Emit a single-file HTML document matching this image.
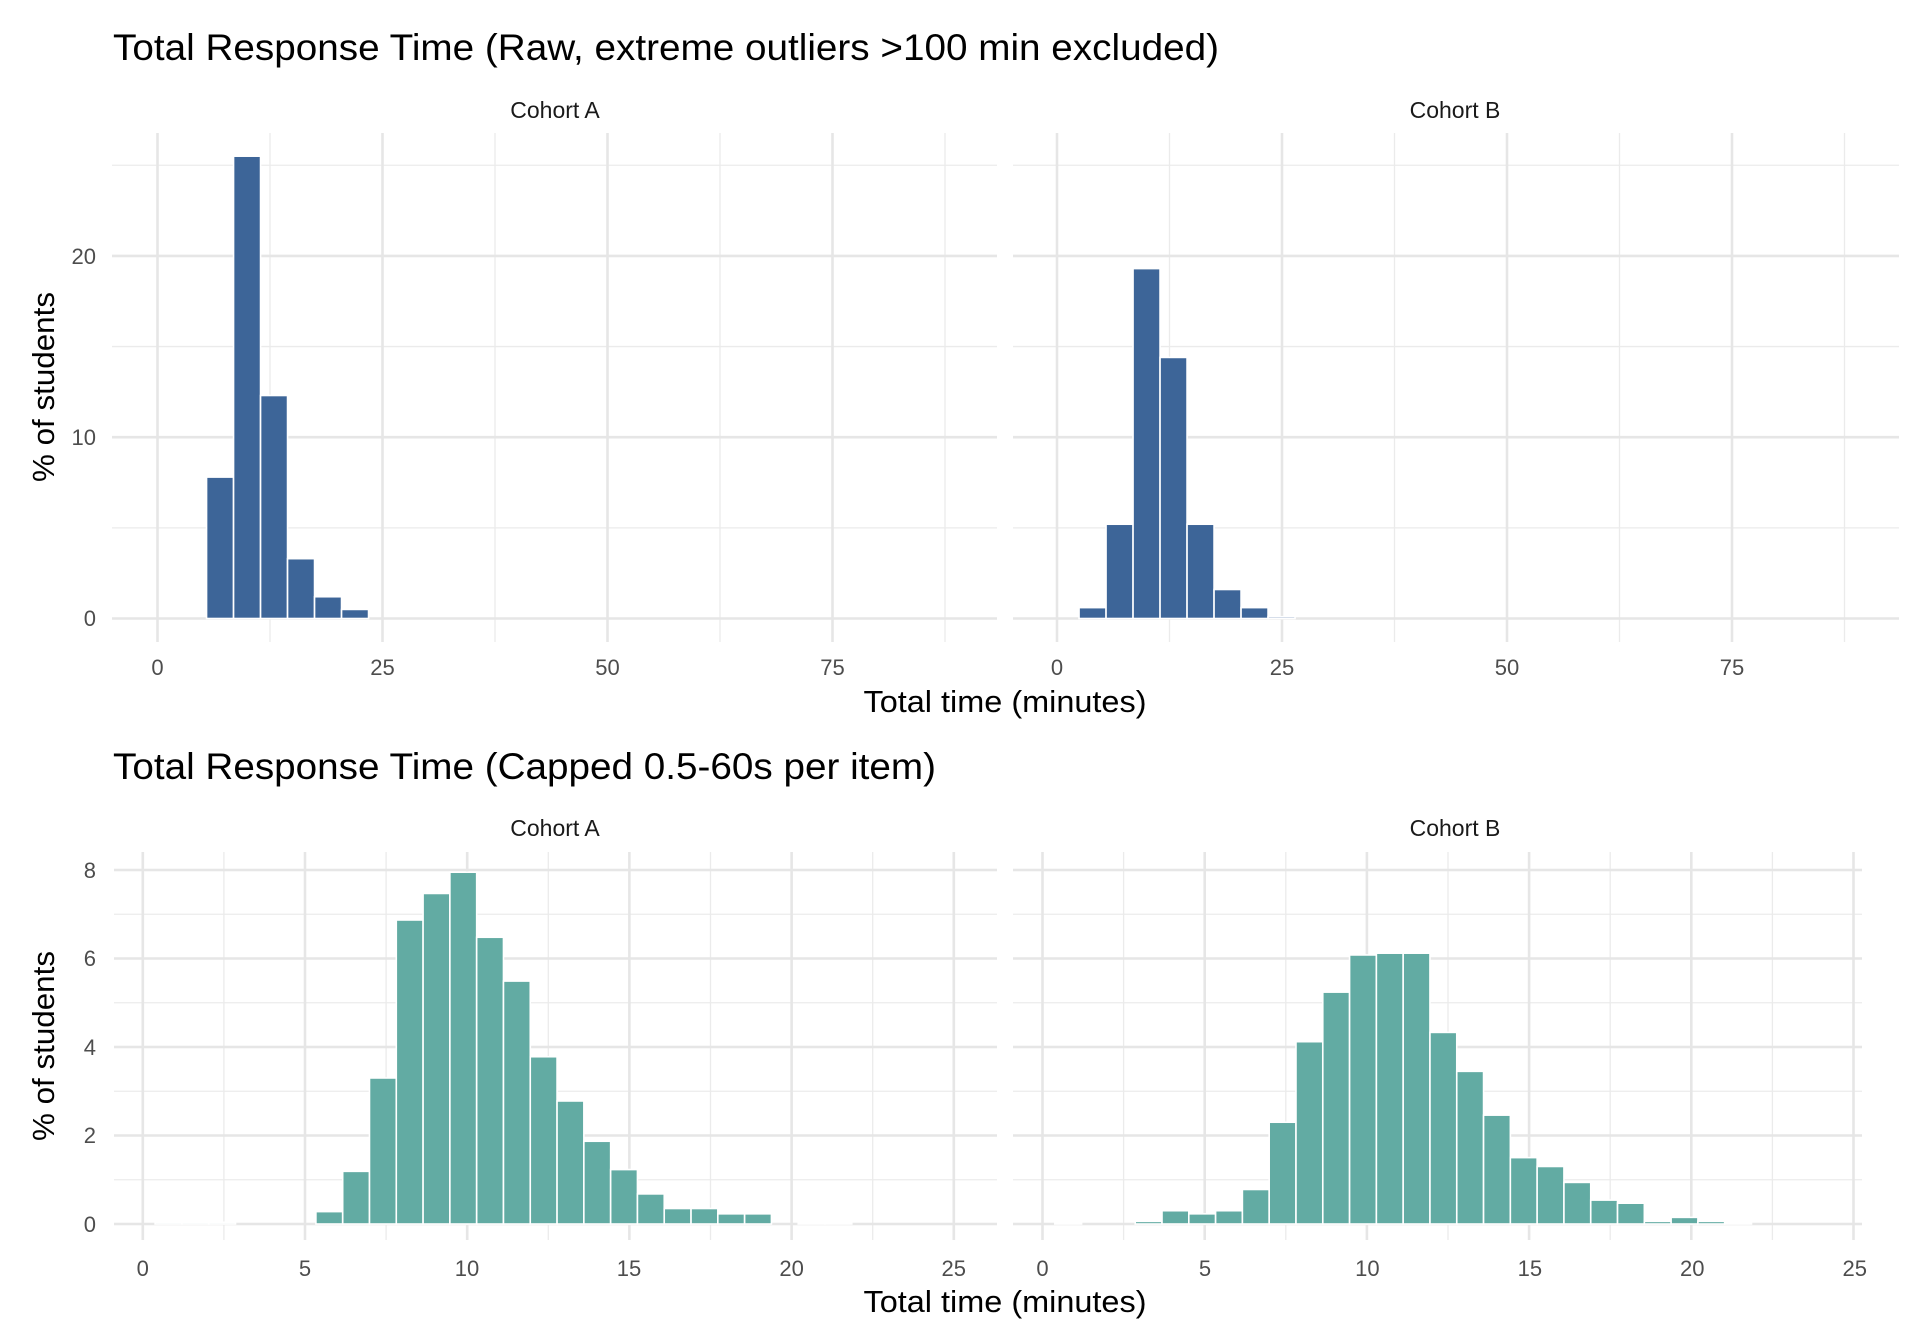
<!DOCTYPE html>
<html><head><meta charset="utf-8"><style>
html,body{margin:0;padding:0;background:#fff;}
svg{display:block;font-family:"Liberation Sans",Arial,sans-serif;}
.tk{font-size:22px;fill:#4d4d4d;}
.st{font-size:23px;fill:#1a1a1a;}
.ax{font-size:31px;fill:#000;}
.ti{font-size:37px;fill:#000;}
</style></head><body>
<svg id="s" width="1920" height="1344" viewBox="0 0 1920 1344" xmlns="http://www.w3.org/2000/svg">
<rect width="1920" height="1344" fill="#fff"/>
<g id="g"></g>
<text class="ti" x="113" y="60" textLength="1106" lengthAdjust="spacingAndGlyphs">Total Response Time (Raw, extreme outliers &gt;100 min excluded)</text>
<text class="ti" x="113" y="779" textLength="823" lengthAdjust="spacingAndGlyphs">Total Response Time (Capped 0.5-60s per item)</text>
<text class="st" x="555" y="118" text-anchor="middle">Cohort A</text>
<text class="st" x="1455" y="118" text-anchor="middle">Cohort B</text>
<text class="st" x="555" y="836" text-anchor="middle">Cohort A</text>
<text class="st" x="1455" y="836" text-anchor="middle">Cohort B</text>
<g class="tk" text-anchor="end">
<text x="96" y="626">0</text><text x="96" y="445">10</text><text x="96" y="264">20</text>
<text x="96" y="1232">0</text><text x="96" y="1143">2</text><text x="96" y="1055">4</text><text x="96" y="966">6</text><text x="96" y="878">8</text>
</g>
<g class="tk" text-anchor="middle">
<text x="157.5" y="675">0</text><text x="382.5" y="675">25</text><text x="607.5" y="675">50</text><text x="832.5" y="675">75</text>
<text x="1057" y="675">0</text><text x="1282" y="675">25</text><text x="1507" y="675">50</text><text x="1732" y="675">75</text>
<text x="142.8" y="1276">0</text><text x="305" y="1276">5</text><text x="467" y="1276">10</text><text x="629" y="1276">15</text><text x="791.6" y="1276">20</text><text x="953.8" y="1276">25</text>
<text x="1042.5" y="1276">0</text><text x="1205" y="1276">5</text><text x="1367.4" y="1276">10</text><text x="1529.9" y="1276">15</text><text x="1692.3" y="1276">20</text><text x="1854.8" y="1276">25</text>
</g>
<text class="ax" x="1005" y="712" text-anchor="middle" textLength="283" lengthAdjust="spacingAndGlyphs">Total time (minutes)</text>
<text class="ax" x="1005" y="1312" text-anchor="middle" textLength="283" lengthAdjust="spacingAndGlyphs">Total time (minutes)</text>
<text class="ax" transform="translate(54,387) rotate(-90)" text-anchor="middle" textLength="190" lengthAdjust="spacingAndGlyphs">% of students</text>
<text class="ax" transform="translate(54,1046) rotate(-90)" text-anchor="middle" textLength="190" lengthAdjust="spacingAndGlyphs">% of students</text>
</svg>
<script>
(function(){
var NS="http://www.w3.org/2000/svg",g=document.getElementById("g");
function el(t,a){var e=document.createElementNS(NS,t);for(var k in a)e.setAttribute(k,a[k]);g.appendChild(e);}
function panel(p){
  var X=function(v){return p.x0+v*p.ux;},Y=function(v){return p.y0-v*p.uy;};
  p.xmin.forEach(function(v){el("line",{x1:X(v),x2:X(v),y1:p.top,y2:p.bot,stroke:"#ebebeb","stroke-width":1.3});});
  p.ymin.forEach(function(v){el("line",{y1:Y(v),y2:Y(v),x1:p.l,x2:p.r,stroke:"#ebebeb","stroke-width":1.3});});
  p.xmaj.forEach(function(v){el("line",{x1:X(v),x2:X(v),y1:p.top,y2:p.bot,stroke:"#e6e6e6","stroke-width":2.6});});
  p.ymaj.forEach(function(v){el("line",{y1:Y(v),y2:Y(v),x1:p.l,x2:p.r,stroke:"#e6e6e6","stroke-width":2.6});});
  p.vals.forEach(function(h,i){
    var x1=X(p.e0+i*p.bw),x2=X(p.e0+(i+1)*p.bw),y=Y(h);
    el("rect",{x:x1,y:y,width:x2-x1,height:p.y0-y,fill:h<0.05?"#e4efee":p.col,stroke:"#fff","stroke-width":1.6});
  });
}
var topA=[0,0,7.8,25.5,12.3,3.3,1.2,0.5];while(topA.length<30)topA.push(0);
var topB=[0,0.6,5.2,19.3,14.4,5.2,1.6,0.6,0.1];while(topB.length<30)topB.push(0);
var tc="#3d6598",bc="#62aba3";
[[157.5,112,997,topA],[1057,1013,1899,topB]].forEach(function(q){
  panel({x0:q[0],ux:9.0,y0:618.5,uy:18.13,l:q[1],r:q[2],top:133,bot:642,
    xmaj:[0,25,50,75],xmin:[12.5,37.5,62.5,87.5],ymaj:[0,10,20],ymin:[5,15,25],
    vals:q[3],col:tc,e0:-0.55,bw:3});
});
var botA=[0.04,0.04,0.04,0,0,0,0.28,1.19,3.30,6.87,7.47,7.95,6.48,5.49,3.78,2.78,1.87,1.23,0.68,0.35,0.35,0.23,0.23,0,0.03,0.03,0,0,0,0];
var botB=[0.03,0,0,0.06,0.30,0.23,0.30,0.78,2.30,4.12,5.24,6.08,6.12,6.12,4.33,3.45,2.46,1.50,1.30,0.94,0.54,0.47,0.06,0.15,0.06,0.02,0,0,0,0];
[[142.8,114,997,botA],[1042.5,1013,1862,botB]].forEach(function(q){
  panel({x0:q[0],ux:32.44,y0:1224,uy:44.25,l:q[1],r:q[2],top:852,bot:1240,
    xmaj:[0,5,10,15,20,25],xmin:[2.5,7.5,12.5,17.5,22.5],ymaj:[0,2,4,6,8],ymin:[1,3,5,7],
    vals:q[3],col:bc,e0:0.38,bw:0.826});
});
})();
</script>
</body></html>
